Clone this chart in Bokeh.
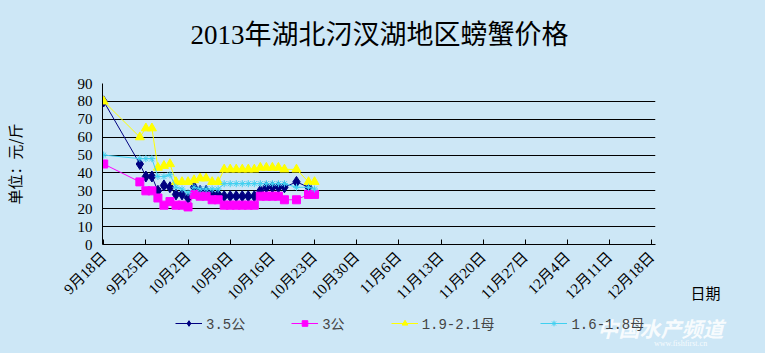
import math
from datetime import date
from bokeh.plotting import figure
from bokeh.layouts import column, row
from bokeh.models import Range1d, FixedTicker, Legend, LegendItem, Label
from bokeh.embed import file_html
from bokeh.resources import INLINE

# ---------------- data ----------------
title_text = "2013年湖北汈汊湖地区螃蟹价格"
y_title = "单位：元/斤"
x_title = "日期"

dates = ["9/18", "9/24", "9/25", "9/26", "9/27", "9/28", "9/29", "9/30",
         "10/1", "10/2", "10/3", "10/4", "10/5", "10/6", "10/7", "10/8", "10/9",
         "10/10", "10/11", "10/12", "10/13", "10/14", "10/15", "10/16", "10/17",
         "10/18", "10/20", "10/22", "10/23"]

s_35gong = [80, 45, 38, 38, 30, 33, 32, 28,
            28, 26, 32, 30, 30, 28, 28, 27, 27,
            27, 27, 27, 27, 30, 32, 32, 32,
            32, 35, 32, None]
s_3gong = [45, 35, 30, 30, 26, 22, 24, 22,
           22, 21, 28, 27, 27, 25, 25, 22, 22,
           22, 22, 22, 22, 27, 27, 27, 27,
           25, 25, 28, 28]
s_mu_19_21 = [80, 60, 65, 65, 43, 44, 45, 35,
              35, 35, 36, 37, 37, 35, 35, 42, 42,
              42, 42, 42, 42, 43, 43, 43, 43,
              42, 42, 35, 35]
s_mu_16_18 = [50, 48, 48, 48, 38, 38, 39, 32,
              31, 29, 32, 31, 31, 31, 31, 34, 34,
              34, 34, 34, 34, 34, 34, 34, 34,
              34, 32, 32, 31]

series_names = ["3.5公", "3公", "1.9-2.1母", "1.6-1.8母"]

tick_dates = ["9/18", "9/25", "10/2", "10/9", "10/16", "10/23", "10/30",
              "11/6", "11/13", "11/20", "11/27", "12/4", "12/11", "12/18"]
tick_labels = ["9月18日", "9月25日", "10月2日", "10月9日", "10月16日", "10月23日",
               "10月30日", "11月6日", "11月13日", "11月20日", "11月27日",
               "12月4日", "12月11日", "12月18日"]
y_ticks = [0, 10, 20, 30, 40, 50, 60, 70, 80, 90]


def day(s):
    m, d = s.split("/")
    return (date(2013, int(m), int(d)) - date(2013, 9, 18)).days


xs = [day(s) for s in dates]
tx = [day(s) for s in tick_dates]

# ---------------- styles ----------------
BG = "#CDE7F6"
SERIF = "'Liberation Serif', 'Noto Sans CJK SC', serif"
MONO = "'Liberation Mono', 'Noto Sans CJK SC', monospace"
CJK = "Noto Sans CJK SC"
styles = [
    ("#000080", "diamond", 11),
    ("#FF00FF", "square", 8),
    ("#FFFF00", "triangle", 9),
    ("#40D0F0", "asterisk", 7),
]

H_TITLE = 60          # title strip
H_MID = 252           # chart strip
H_LEG = 353 - H_TITLE - H_MID
W_MAIN = 670
W_SIDE = 765 - W_MAIN


def style_fig(f):
    f.background_fill_color = BG
    f.border_fill_color = BG
    f.outline_line_color = None
    f.frame_align = False
    f.styles = {"background-color": BG}
    return f


def blank_fig(w, h):
    f = figure(width=w, height=h, output_backend="svg", toolbar_location=None,
               x_range=Range1d(0, w), y_range=Range1d(h, 0),
               x_axis_type=None, y_axis_type=None, title=None,
               min_border=0, min_border_left=0, min_border_right=0,
               min_border_top=0, min_border_bottom=0)
    f.grid.visible = False
    return style_fig(f)


# ---------------- title strip ----------------
top = blank_fig(765, H_TITLE)
top.add_layout(Label(x=379, y=34, text=title_text, text_align="center",
                     text_baseline="middle", text_font=SERIF,
                     text_font_size="27px", text_color="black"))

# ---------------- main chart ----------------
X0, X1 = -0.2, 91.6
p = figure(width=W_MAIN, height=H_MID, output_backend="svg", toolbar_location=None,
           x_range=Range1d(X0, X1), y_range=Range1d(0, 90), title=None,
           min_border_left=102, min_border_right=W_MAIN - 655,
           min_border_top=83 - H_TITLE, min_border_bottom=H_TITLE + H_MID - 244)
style_fig(p)

p.xaxis.ticker = FixedTicker(ticks=tx)
p.xaxis.major_label_overrides = {t: l for t, l in zip(tx, tick_labels)}
p.xaxis.major_label_orientation = math.pi / 4
p.xaxis.major_label_text_font = SERIF
p.xaxis.major_label_text_font_size = "15px"
p.xaxis.major_label_text_color = "black"
p.xaxis.major_label_standoff = 10
p.xaxis.major_tick_in = 5
p.xaxis.major_tick_out = 0
p.xaxis.minor_tick_line_color = None
p.xaxis.axis_line_color = "black"
p.xaxis.major_tick_line_color = "black"

p.yaxis.ticker = FixedTicker(ticks=y_ticks)
p.yaxis.major_label_text_font = SERIF
p.yaxis.major_label_text_font_size = "15px"
p.yaxis.major_label_text_color = "black"
p.yaxis.major_label_standoff = 10
p.yaxis.major_tick_in = 0
p.yaxis.major_tick_out = 0
p.yaxis.minor_tick_line_color = None
p.yaxis.axis_line_color = "black"
p.yaxis.axis_label = y_title
p.yaxis.axis_label_text_font = CJK
p.yaxis.axis_label_text_font_size = "15px"
p.yaxis.axis_label_text_font_style = "normal"
p.yaxis.axis_label_text_color = "black"
p.yaxis.axis_label_standoff = 50

p.xgrid.grid_line_color = None
p.ygrid.grid_line_color = "black"
p.ygrid.grid_line_width = 1

for name, vals, (col, mk, sz) in zip(series_names,
                                     [s_35gong, s_3gong, s_mu_19_21, s_mu_16_18],
                                     styles):
    px = [x for x, v in zip(xs, vals) if v is not None]
    py = [v for v in vals if v is not None]
    p.line(px, py, line_color=col, line_width=1)
    p.scatter(px, py, marker=mk, size=sz, fill_color=col, line_color=col)

# ---------------- right side: x-axis name ----------------
side = blank_fig(W_SIDE, H_MID)
side.add_layout(Label(x=705 - W_MAIN, y=292 - H_TITLE, text=x_title, text_align="center",
                      text_baseline="middle", text_font=CJK,
                      text_font_size="15px", text_color="black"))

# ---------------- bottom strip: legend + watermark ----------------
Y_LEG = H_TITLE + H_MID
strip = blank_fig(765, H_LEG)
items = []
for name, (col, mk, sz) in zip(series_names, styles):
    # legend proxies, placed outside the visible range
    l1 = strip.line(x=[-20, -10], y=[-20, -20], line_color=col, line_width=1)
    l2 = strip.scatter(x=[-15], y=[-20], marker=mk, size=sz,
                       fill_color=col, line_color=col)
    items.append(LegendItem(label=name, renderers=[l1, l2]))

legend = Legend(items=items, orientation="horizontal",
                location=(175, H_LEG - (325 - Y_LEG) - 8),
                background_fill_alpha=0, border_line_color=None,
                padding=0, margin=0, spacing=46, glyph_width=27, glyph_height=14,
                label_standoff=4, label_text_font=MONO,
                label_text_font_size="14px", label_height=16)
strip.add_layout(legend, "center")

strip.add_layout(Label(x=660, y=327 - Y_LEG, text="中国水产频道", text_align="center",
                       text_baseline="middle", text_font=CJK,
                       text_font_size="21px", text_font_style="bold italic",
                       text_color="white", text_alpha=0.85))
strip.add_layout(Label(x=680, y=343 - Y_LEG, text="www.fishfirst.cn", text_align="center",
                       text_baseline="middle", text_font="Liberation Serif",
                       text_font_size="8px", text_color="white", text_alpha=0.85))

mid = row(p, side, spacing=0)
mid.styles = {"background-color": BG}
layout = column(top, mid, strip, spacing=0)
layout.styles = {"background-color": BG}
open("out.html", "w").write(file_html(layout, INLINE))
